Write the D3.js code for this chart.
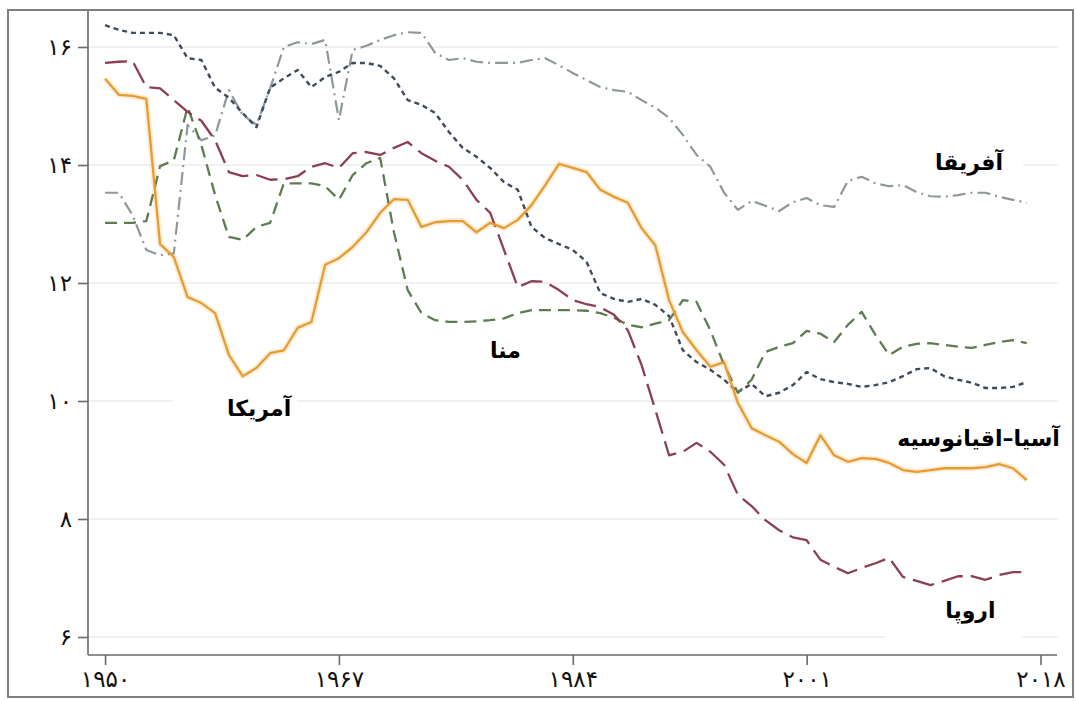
<!DOCTYPE html>
<html><head><meta charset="utf-8">
<script src="https://cdn.jsdelivr.net/npm/d3@7"></script>
<style>html,body{margin:0;padding:0;background:#fff;}svg{display:block;}</style>
</head><body>
<svg id="chart" width="1076" height="701"></svg>
<script>
// ---- data ----
const firstYear = 1950;
const years = d3.range(firstYear, 2018);
const xTickValues = [1950, 1967, 1984, 2001, 2018];
const xTickLabels = ['۱۹۵۰', '۱۹۶۷', '۱۹۸۴', '۲۰۰۱', '۲۰۱۸'];
const yTickValues = [6, 8, 10, 12, 14, 16];
const yTickLabels = ['۶', '۸', '۱۰', '۱۲', '۱۴', '۱۶'];

// orange solid
const seriesOrange = [15.46,15.19,15.17,15.12,12.66,12.44,11.76,11.66,11.49,10.78,
  10.42,10.56,10.81,10.86,11.24,11.34,12.31,12.42,12.61,12.86,
  13.19,13.42,13.41,12.95,13.03,13.05,13.05,12.86,13.02,12.93,
  13.07,13.32,13.66,14.02,13.95,13.88,13.58,13.46,13.36,12.93,
  12.64,11.71,11.17,10.86,10.58,10.66,9.97,9.54,9.42,9.31,
  9.10,8.95,9.42,9.08,8.97,9.03,9.02,8.95,8.83,8.80,
  8.83,8.86,8.86,8.86,8.88,8.93,8.86,8.66];
// maroon long dash
const seriesMaroon = [15.73,15.75,15.76,15.32,15.30,15.10,14.90,14.75,14.42,13.88,
  13.81,13.83,13.75,13.76,13.81,13.97,14.03,13.95,14.20,14.22,
  14.17,14.29,14.39,14.20,14.07,13.97,13.75,13.41,13.19,12.56,
  11.93,12.03,12.02,11.88,11.71,11.64,11.59,11.46,11.20,10.61,
  9.85,9.08,9.14,9.29,9.14,8.92,8.41,8.22,7.98,7.81,
  7.69,7.64,7.31,7.19,7.08,7.17,7.25,7.34,7.02,6.95,
  6.88,6.95,7.03,7.03,6.97,7.05,7.10,7.10];
// green dashed
const seriesGreen = [13.02,13.02,13.02,13.05,13.98,14.08,14.98,14.34,13.49,12.78,
  12.73,12.95,13.02,13.69,13.69,13.69,13.64,13.41,13.83,14.03,
  14.12,12.86,11.88,11.49,11.37,11.34,11.34,11.35,11.37,11.40,
  11.49,11.54,11.54,11.54,11.54,11.53,11.49,11.41,11.29,11.25,
  11.31,11.37,11.71,11.68,11.20,10.61,10.14,10.36,10.83,10.92,
  10.98,11.19,11.14,11.00,11.29,11.51,11.12,10.78,10.92,10.97,
  10.98,10.95,10.92,10.90,10.95,11.00,11.03,10.98];
// dark blue-gray dotted
const seriesDotted = [16.37,16.29,16.24,16.24,16.24,16.20,15.81,15.78,15.31,15.14,
  14.88,14.64,15.31,15.47,15.61,15.32,15.49,15.58,15.73,15.73,
  15.68,15.47,15.10,15.02,14.88,14.56,14.29,14.14,13.95,13.71,
  13.58,12.95,12.76,12.66,12.56,12.36,11.83,11.73,11.68,11.73,
  11.63,11.44,10.86,10.66,10.53,10.36,10.15,10.29,10.08,10.14,
  10.27,10.49,10.37,10.32,10.29,10.24,10.27,10.32,10.42,10.54,
  10.56,10.42,10.36,10.31,10.22,10.22,10.24,10.32];
// light gray dash-dot
const seriesDashDot = [13.53,13.53,13.15,12.56,12.47,12.50,14.68,14.42,14.50,15.27,
  14.85,14.68,15.30,16.00,16.08,16.05,16.12,14.76,15.95,16.02,
  16.12,16.20,16.25,16.24,15.90,15.78,15.81,15.75,15.73,15.73,
  15.73,15.78,15.81,15.69,15.56,15.44,15.32,15.27,15.24,15.10,
  14.97,14.80,14.51,14.17,13.97,13.53,13.24,13.39,13.31,13.22,
  13.37,13.44,13.32,13.29,13.73,13.80,13.69,13.64,13.66,13.54,
  13.47,13.46,13.49,13.53,13.53,13.46,13.41,13.36];

const labelTexts = ['آفریقا', 'آمریکا', 'منا', 'آسیا–اقیانوسیه', 'اروپا'];
const labelYears = [2012.8, 1961.2, 1979.1, 2013.5, 2012.9];
const labelValues = [14.05, 9.88, 10.85, 9.36, 6.45];

// ---- drawing ----
const svg = d3.select('#chart');
const x = d3.scaleLinear().domain([1948.76, 2019.2]).range([88, 1057]);
const y = d3.scaleLinear().domain([6, 16]).range([637, 47]);
const plotTop = 11, plotBottom = 655;

// outer frame
svg.append('rect').attr('x', 8).attr('y', 10).attr('width', 1065).attr('height', 687)
  .attr('fill', '#fff').attr('stroke', '#808080').attr('stroke-width', 2);

// gridlines
svg.append('g').selectAll('line').data(yTickValues).join('line')
  .attr('x1', 89).attr('x2', 1058)
  .attr('y1', d => y(d)).attr('y2', d => y(d))
  .attr('stroke', '#ececec').attr('stroke-width', 1.6);

// label boxes (white, cover gridlines)
const boxes = [[713, 140, 310, 70], [173, 388, 124, 38], [462, 330, 90, 42], [900, 420, 160, 40], [885, 590, 137, 55]];
svg.append('g').selectAll('rect').data(boxes).join('rect')
  .attr('x', d => d[0]).attr('y', d => d[1]).attr('width', d => d[2]).attr('height', d => d[3])
  .attr('fill', '#fff');

// axes
const yAxis = d3.axisLeft(y).tickValues(yTickValues).tickSize(10).tickPadding(6)
  .tickFormat((d, i) => yTickLabels[i]);
const gy = svg.append('g').attr('transform', 'translate(88,0)').call(yAxis);
gy.select('.domain').remove();
gy.append('line').attr('x1', 0).attr('x2', 0).attr('y1', plotTop).attr('y2', plotBottom)
  .attr('stroke', '#6a6a6a').attr('stroke-width', 1.6);
gy.selectAll('.tick line').attr('stroke', '#6a6a6a').attr('stroke-width', 1.6);
gy.selectAll('.tick text').attr('font-family', 'DejaVu Sans').attr('font-size', 23).attr('fill', '#111');

const xAxis = d3.axisBottom(x).tickValues(xTickValues).tickSize(10).tickPadding(6)
  .tickFormat((d, i) => xTickLabels[i]);
const gx = svg.append('g').attr('transform', `translate(0,${plotBottom})`).call(xAxis);
gx.select('.domain').remove();
gx.append('line').attr('x1', 88).attr('x2', 1057).attr('y1', 0).attr('y2', 0)
  .attr('stroke', '#6a6a6a').attr('stroke-width', 1.6);
gx.selectAll('.tick line').attr('stroke', '#6a6a6a').attr('stroke-width', 1.6);
gx.selectAll('.tick text').attr('font-family', 'DejaVu Sans').attr('font-size', 23).attr('fill', '#111');

// lines
const line = d3.line().x((d, i) => x(years[i])).y(d => y(d));
const styles = [
  {data: seriesDashDot, color: '#8f9898', dash: '13,5,2,5', w: 2.2},
  {data: seriesDotted, color: '#3f4b5c', dash: '5,4', w: 2.4},
  {data: seriesGreen, color: '#5f7b52', dash: '12,7', w: 2.3},
  {data: seriesMaroon, color: '#8c3e52', dash: '22,8', w: 2.3},
];
svg.append('path').datum(seriesOrange).attr('d', line).attr('fill', 'none')
  .attr('stroke', '#f7dcae').attr('stroke-width', 6).attr('stroke-opacity', 0.5).attr('stroke-linejoin', 'round');
styles.forEach(s => {
  svg.append('path').datum(s.data).attr('d', line).attr('fill', 'none')
    .attr('stroke', s.color).attr('stroke-width', s.w).attr('stroke-dasharray', s.dash)
    .attr('stroke-linejoin', 'round');
});
svg.append('path').datum(seriesOrange).attr('d', line).attr('fill', 'none')
  .attr('stroke', '#e69c32').attr('stroke-width', 2.3).attr('stroke-linejoin', 'round');

// labels
svg.append('g').selectAll('text').data(labelTexts).join('text')
  .attr('x', (d, i) => x(labelYears[i])).attr('y', (d, i) => y(labelValues[i]))
  .attr('text-anchor', 'middle').attr('dominant-baseline', 'central')
  .attr('font-family', 'DejaVu Sans').attr('font-weight', 'bold').attr('font-size', 22)
  .attr('fill', '#000')
  .text(d => d);
</script>
</body></html>
